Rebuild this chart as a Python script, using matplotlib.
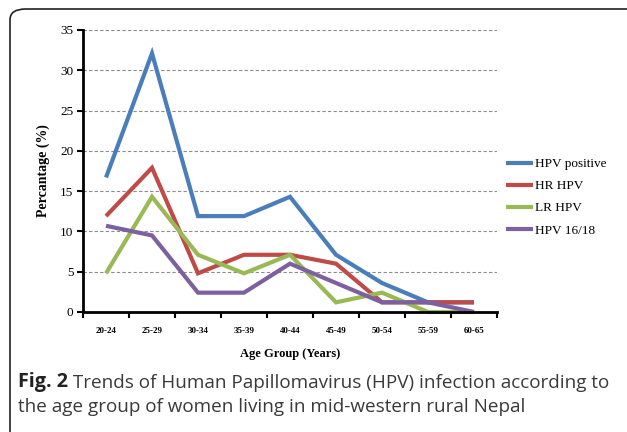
import matplotlib
matplotlib.use("Agg")
import matplotlib.pyplot as plt
from matplotlib.patches import FancyBboxPatch

# data
age_groups = ["20-24", "25-29", "30-34", "35-39", "40-44", "45-49", "50-54", "55-59", "60-65"]
hpv_positive = [16.7, 32.1, 11.9, 11.9, 14.3, 7.1, 3.6, 1.2, 1.2]
hr_hpv = [11.9, 17.9, 4.8, 7.1, 7.1, 6.0, 1.2, 1.2, 1.2]
lr_hpv = [4.8, 14.3, 7.1, 4.8, 7.1, 1.2, 2.4, 0.0, 0.0]
hpv_16_18 = [10.7, 9.5, 2.4, 2.4, 6.0, 3.6, 1.2, 1.2, 0.0]

series = [
    ("HPV positive", hpv_positive, "#4a7ebb"),
    ("HR HPV", hr_hpv, "#be4b48"),
    ("LR HPV", lr_hpv, "#98b954"),
    ("HPV 16/18", hpv_16_18, "#7d60a0"),
]

serif = "Liberation Serif"

fig = plt.figure(figsize=(6.27, 4.32), dpi=100)
ax = fig.add_axes([83 / 627, 1 - 312 / 432, (497 - 83) / 627, (312 - 30) / 432])

x = list(range(len(age_groups)))
for name, vals, col in series:
    ax.plot(x, vals, color=col, lw=3.0, label=name, solid_capstyle="butt",
            solid_joinstyle="miter", clip_on=False)

ax.set_xlim(-0.5, len(age_groups) - 0.5)
ax.set_ylim(0, 35)
ax.set_yticks(range(0, 36, 5))
ax.yaxis.grid(True, ls=(0, (3, 2)), color="#8c8c8c", lw=0.8)
ax.set_axisbelow(True)

ax.set_xticks([i - 0.5 for i in range(len(age_groups) + 1)])
ax.set_xticklabels([])
ax.set_xticks(x, minor=True)
ax.set_xticklabels(age_groups, minor=True, fontsize=6.5, fontweight="bold", family=serif)
ax.tick_params(axis="x", which="minor", length=0, pad=11)
ax.tick_params(axis="x", which="major", length=4, width=1.5, direction="out")
ax.tick_params(axis="y", length=4, width=1.5, direction="out", labelsize=9.5, pad=3)
for lab in ax.get_yticklabels():
    lab.set_family(serif)

for s in ["top", "right"]:
    ax.spines[s].set_visible(False)
for s in ["left", "bottom"]:
    ax.spines[s].set_linewidth(2)

ax.set_xlabel("Age Group (Years)", fontsize=9, fontweight="bold", family=serif, labelpad=9)
ax.set_ylabel("Percantage (%)", fontsize=10, fontweight="bold", family=serif, labelpad=7)

leg = ax.legend(loc="upper left", bbox_to_anchor=(1.01, 0.565), frameon=False,
                prop={"family": serif, "size": 9.5}, handlelength=2.0,
                handletextpad=0.2, labelspacing=0.75, borderaxespad=0)

# rounded frame around figure
frame = FancyBboxPatch((10 / 627, -0.2), 640 / 627, 1.2 - 9 / 432,
                       boxstyle="round,pad=0,rounding_size=0.025",
                       transform=fig.transFigure, fill=False, ec="#222222", lw=1.2,
                       clip_on=False)
fig.patches.append(frame)

# caption
cap_fs = 13.6
t1 = fig.text(18 / 627, 1 - 387 / 432, "Fig. 2", fontsize=cap_fs + 0.6, fontweight="bold",
              family="Open Sans", va="baseline", color="#222222")
ax.annotate(" Trends of Human Papillomavirus (HPV) infection according to",
            xy=(1, 0), xycoords=t1, va="bottom", ha="left", fontsize=cap_fs,
            family="Open Sans", color="#3a3a3a", annotation_clip=False)
fig.text(18 / 627, 1 - 412 / 432, "the age group of women living in mid-western rural Nepal",
         fontsize=cap_fs, family="Open Sans", va="baseline", color="#3a3a3a")

fig.savefig("out.png", dpi=100)
